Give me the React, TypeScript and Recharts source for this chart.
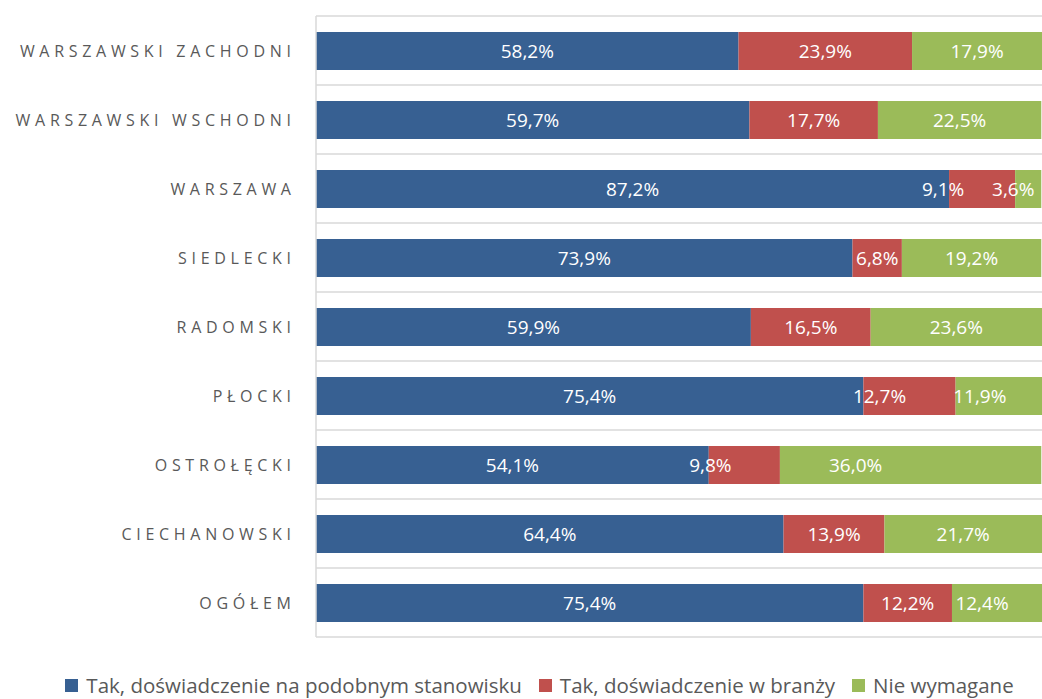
import React from 'react';
import { BarChart, Bar, XAxis, YAxis, CartesianGrid, Legend, LabelList } from 'recharts';

const categories = [
  'WARSZAWSKI ZACHODNI',
  'WARSZAWSKI WSCHODNI',
  'WARSZAWA',
  'SIEDLECKI',
  'RADOMSKI',
  'PŁOCKI',
  'OSTROŁĘCKI',
  'CIECHANOWSKI',
  'OGÓŁEM',
];
const podobneStanowisko = [58.2, 59.7, 87.2, 73.9, 59.9, 75.4, 54.1, 64.4, 75.4];
const wBranzy = [23.9, 17.7, 9.1, 6.8, 16.5, 12.7, 9.8, 13.9, 12.2];
const nieWymagane = [17.9, 22.5, 3.6, 19.2, 23.6, 11.9, 36.0, 21.7, 12.4];

const seriesNames = [
  'Tak, doświadczenie na podobnym stanowisku',
  'Tak, doświadczenie w branży',
  'Nie wymagane',
];

const COLORS = ['#376092', '#c0504d', '#9bbb59'];
const TEXT = '#595959';
const GRID = '#d9d9d9';

// some labels in the original were dragged left of their segment centre
const labelNudge: Record<string, number> = {
  'WARSZAWA|branza': -39,
  'WARSZAWA|nie': -15,
  'PŁOCKI|branza': -30,
  'PŁOCKI|nie': -19,
  'OSTROŁĘCKI|branza': -34,
  'OSTROŁĘCKI|nie': -55,
  'OGÓŁEM|nie': -15,
};

const data = categories.map((name, i) => ({
  name,
  podobne: podobneStanowisko[i],
  branza: wBranzy[i],
  nie: nieWymagane[i],
}));

const fmt = (v: number) => v.toFixed(1).replace('.', ',') + '%';

const makeLabel = (key: string) => (props: any) => {
  const { x, y, width, height, index } = props;
  const row = data[index];
  const v = row[key as 'podobne' | 'branza' | 'nie'];
  const dx = labelNudge[`${row.name}|${key}`] || 0;
  return (
    <text
      x={x + width / 2 + dx}
      y={y + height / 2}
      fill="#ffffff"
      fontSize={19}
      fontFamily="'Open Sans', sans-serif"
      textAnchor="middle"
      dominantBaseline="central"
    >
      {fmt(v)}
    </text>
  );
};

const CategoryTick = (props: any) => {
  const { x, y, payload } = props;
  const ls = 4.7;
  return (
    <text
      x={x - 25 + ls}
      y={y}
      fill={TEXT}
      fontSize={16}
      fontFamily="'Open Sans', sans-serif"
      letterSpacing={ls}
      textAnchor="end"
      dominantBaseline="central"
    >
      {payload.value}
    </text>
  );
};

const LegendContent = () => (
  <div
    style={{
      display: 'flex',
      justifyContent: 'center',
      alignItems: 'flex-end',
      height: 62,
      paddingLeft: 37,
      boxSizing: 'border-box',
      paddingBottom: 0,
      fontFamily: "'Open Sans', sans-serif",
      fontSize: 20.5,
      color: TEXT,
      whiteSpace: 'nowrap',
    }}
  >
    {seriesNames.map((s, i) => (
      <div key={s} style={{ display: 'flex', alignItems: 'center', marginRight: i < 2 ? 17 : 0 }}>
        <span style={{ width: 13, height: 13, background: COLORS[i], marginRight: 8, display: 'inline-block' }} />
        <span>{s}</span>
      </div>
    ))}
  </div>
);

export default function App() {
  return (
    <div style={{ position: 'absolute', left: 0, top: 0, background: '#fff' }}>
      <BarChart
        width={1042}
        height={699}
        data={data}
        layout="vertical"
        margin={{ top: 16, right: 0, bottom: 0, left: 0 }}
        barSize={38}
      >
        <CartesianGrid
          vertical={false}
          stroke={GRID}
          strokeWidth={1.5}
          horizontalCoordinatesGenerator={({ offset }: any) =>
            categories.map((_, i) => offset.top + (i * offset.height) / categories.length).concat(offset.top + offset.height)
          }
        />
        <XAxis type="number" domain={[0, 100]} hide allowDataOverflow />
        <YAxis
          type="category"
          dataKey="name"
          width={316}
          axisLine={{ stroke: GRID, strokeWidth: 1.5 }}
          tickLine={false}
          tickSize={0}
          tickMargin={0}
          tick={<CategoryTick />}
          interval={0}
        />
        <Legend verticalAlign="bottom" content={<LegendContent />} wrapperStyle={{ height: 62, bottom: 0 }} />
        <Bar dataKey="podobne" stackId="a" fill={COLORS[0]} isAnimationActive={false}>
          <LabelList content={makeLabel('podobne')} />
        </Bar>
        <Bar dataKey="branza" stackId="a" fill={COLORS[1]} isAnimationActive={false}>
          <LabelList content={makeLabel('branza')} />
        </Bar>
        <Bar dataKey="nie" stackId="a" fill={COLORS[2]} isAnimationActive={false}>
          <LabelList content={makeLabel('nie')} />
        </Bar>
      </BarChart>
    </div>
  );
}
